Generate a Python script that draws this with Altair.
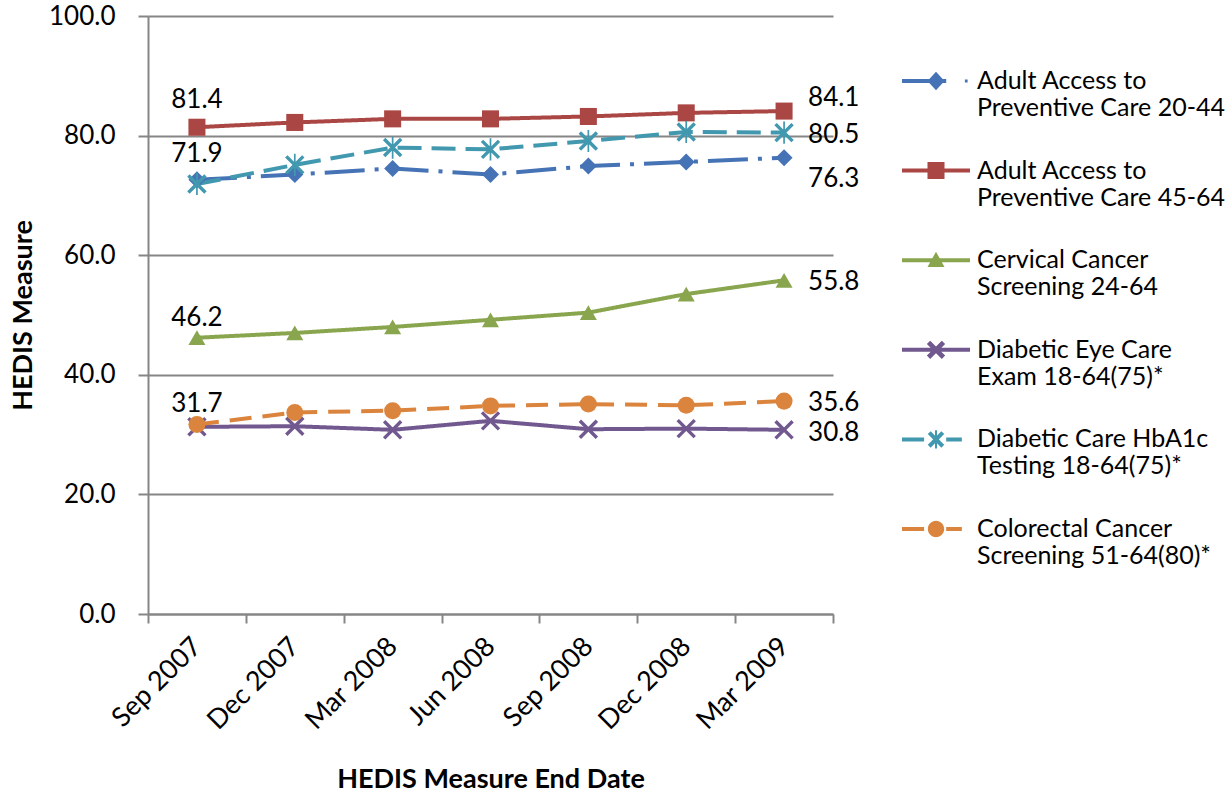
import altair as alt
import pandas as pd

# Reporting periods (HEDIS measure end dates)
end_dates = ["Sep 2007", "Dec 2007", "Mar 2008", "Jun 2008", "Sep 2008", "Dec 2008", "Mar 2009"]

# Measure names; the line break splits the legend label over two lines
measure_names = [
    "Adult Access to\nPreventive Care 20-44",
    "Adult Access to\nPreventive Care 45-64",
    "Cervical Cancer\nScreening 24-64",
    "Diabetic Eye Care\nExam 18-64(75)*",
    "Diabetic Care HbA1c\nTesting 18-64(75)*",
    "Colorectal Cancer\nScreening 51-64(80)*",
]

# Rates per period
access_20_44 = [72.6, 73.5, 74.5, 73.5, 74.9, 75.6, 76.3]
access_45_64 = [81.4, 82.2, 82.8, 82.8, 83.2, 83.8, 84.1]
cervical_24_64 = [46.2, 47.0, 48.0, 49.2, 50.4, 53.5, 55.8]
diabetic_eye = [31.3, 31.4, 30.8, 32.3, 30.9, 31.0, 30.8]
diabetic_hba1c = [71.9, 75.1, 78.0, 77.7, 79.1, 80.6, 80.5]
colorectal_51_64 = [31.7, 33.7, 34.0, 34.8, 35.1, 34.9, 35.6]

all_series = [access_20_44, access_45_64, cervical_24_64, diabetic_eye, diabetic_hba1c, colorectal_51_64]

rows = []
for name, vals in zip(measure_names, all_series):
    for d, v in zip(end_dates, vals):
        rows.append({"series": name, "date": d, "value": v})
df = pd.DataFrame(rows)

colors = ["#4573B5", "#AA4643", "#89A54E", "#71588F", "#4198AF", "#DB843D"]
dashes = [[40, 10, 4, 10], [1, 0], [1, 0], [1, 0], [24, 10], [22, 11]]

FONT = "Lato"
GRAY = "#868686"
TEXT_SIZE = 26


def rect(x1, x2, y1, y2):
    return f"M{x1:.3f},{y1:.3f}L{x2:.3f},{y1:.3f}L{x2:.3f},{y2:.3f}L{x1:.3f},{y2:.3f}Z"


def diag_cross(a, t, cy=0.0):
    # two thin bars forming an "x", written clockwise so the fill unions
    d = t / 2 ** 0.5
    p1 = f"M{-a + d:.3f},{cy - a - d:.3f}L{a + d:.3f},{cy + a - d:.3f}L{a - d:.3f},{cy + a + d:.3f}L{-a - d:.3f},{cy - a + d:.3f}Z"
    p2 = f"M{-a - d:.3f},{cy + a - d:.3f}L{a - d:.3f},{cy - a - d:.3f}L{a + d:.3f},{cy - a + d:.3f}L{-a + d:.3f},{cy + a + d:.3f}Z"
    return p1 + p2


def diamond(w, h, cy=0.0):
    return f"M0,{cy - h:.3f}L{w:.3f},{cy:.3f}L0,{cy + h:.3f}L{-w:.3f},{cy:.3f}Z"


def triangle(w, h, cy=0.0):
    return f"M0,{cy - h:.3f}L{w:.3f},{cy + h * 0.8:.3f}L{-w:.3f},{cy + h * 0.8:.3f}Z"


def circle(r, cy=0.0):
    return f"M{-r:.3f},{cy:.3f}A{r:.3f},{r:.3f} 0 1 1 {r:.3f},{cy:.3f}A{r:.3f},{r:.3f} 0 1 1 {-r:.3f},{cy:.3f}Z"


# Plot markers
x_mark = diag_cross(1.0, 0.2)
star_mark = diag_cross(1.0, 0.2) + rect(-0.1, 0.1, -1.3, 1.3)
marker_shapes = ["diamond", "square", "triangle-up", x_mark, star_mark, "circle"]

# Legend keys: a short stretch of line with the marker on it
S = 34.0          # half width of a key in pixels
t = 2.0 / S       # half line thickness
cy = 0.0
legend_keys = [
    rect(-1, 0.3, cy - t, cy + t) + diamond(0.25, 0.27, cy) + rect(0.85, 0.93, cy - 0.045, cy + 0.045),
    rect(-1, 1, cy - t, cy + t) + rect(-0.25, 0.25, cy - 0.25, cy + 0.25),
    rect(-1, 1, cy - t, cy + t) + triangle(0.25, 0.25, cy),
    rect(-1, 1, cy - t, cy + t) + diag_cross(0.22, 0.07, cy),
    rect(-1, -0.35, cy - t, cy + t) + rect(0.3, 0.76, cy - t, cy + t)
    + diag_cross(0.2, 0.06, cy) + rect(-0.03, 0.03, cy - 0.27, cy + 0.27),
    rect(-1, -0.35, cy - t, cy + t) + rect(0.3, 0.76, cy - t, cy + t) + circle(0.24, cy),
]

x_enc = alt.X(
    "date:N",
    sort=end_dates,
    scale=alt.Scale(type="band", paddingInner=0, paddingOuter=0),
    axis=alt.Axis(
        title="HEDIS Measure End Date",
        labelAngle=-45,
        labelAlign="right",
        labelBaseline="middle",
        labelPadding=19,
        labelFontSize=27,
        tickBand="extent",
        tickSize=9,
        grid=False,
        titlePadding=32,
    ),
)
y_enc = alt.Y(
    "value:Q",
    scale=alt.Scale(domain=[0, 100], nice=False),
    axis=alt.Axis(
        title="HEDIS Measure",
        values=[0, 20, 40, 60, 80, 100],
        format=".1f",
        tickSize=10,
        labelPadding=23,
        titlePadding=11,
        grid=True,
    ),
)
color_scale = alt.Scale(domain=measure_names, range=colors)

lines = alt.Chart(df).mark_line(strokeWidth=4).encode(
    x=x_enc,
    y=y_enc,
    color=alt.Color("series:N", scale=color_scale, legend=None),
    strokeDash=alt.StrokeDash("series:N", scale=alt.Scale(domain=measure_names, range=dashes), legend=None),
)

points = alt.Chart(df).mark_point(filled=True, size=290, opacity=1).encode(
    x=x_enc,
    y=y_enc,
    color=alt.Color("series:N", scale=color_scale, legend=None),
    shape=alt.Shape("series:N", scale=alt.Scale(domain=measure_names, range=marker_shapes), legend=None),
)

legend_props = dict(
    title=None,
    orient="none",
    legendX=754,
    legendY=31,
    symbolSize=(2 * S) ** 2,
    symbolStrokeWidth=0,
    symbolOpacity=1,
    labelFont=FONT,
    labelFontSize=25,
    labelColor="#000000",
    labelLimit=400,
    labelOffset=7,
    labelExpr="split(datum.label, '\\n')",
    rowPadding=15.6,
    padding=0,
)

key_layer = alt.Chart(df).transform_filter("false").mark_point(filled=True, opacity=1).encode(
    x=x_enc,
    y=y_enc,
    color=alt.Color("series:N", scale=color_scale, legend=alt.Legend(**legend_props)),
    shape=alt.Shape("series:N", scale=alt.Scale(domain=measure_names, range=legend_keys),
                    legend=alt.Legend(**legend_props)),
)

# Value labels at the first and last period: (series index, vertical nudge)
start_labels = [(1, -27), (4, -30), (2, -20), (5, -20)]
end_labels = [(1, -13), (4, 2), (0, 21), (2, 2), (5, 2), (3, 3)]

label_layers = []
for idx, nudge in start_labels:
    label_layers.append(
        alt.Chart(df)
        .transform_filter(alt.FieldEqualPredicate(field="series", equal=measure_names[idx]))
        .transform_filter(alt.FieldEqualPredicate(field="date", equal=end_dates[0]))
        .mark_text(dy=nudge, align="center", baseline="middle", font=FONT, fontSize=TEXT_SIZE, color="#000000")
        .encode(x=x_enc, y=y_enc, text=alt.Text("value:Q", format=".1f"))
    )
for idx, nudge in end_labels:
    label_layers.append(
        alt.Chart(df)
        .transform_filter(alt.FieldEqualPredicate(field="series", equal=measure_names[idx]))
        .transform_filter(alt.FieldEqualPredicate(field="date", equal=end_dates[-1]))
        .mark_text(dx=24, dy=nudge, align="left", baseline="middle", font=FONT, fontSize=TEXT_SIZE, color="#000000")
        .encode(x=x_enc, y=y_enc, text=alt.Text("value:Q", format=".1f"))
    )

chart = (
    alt.layer(lines, points, *label_layers, key_layer)
    .resolve_scale(shape="independent", color="independent")
    .properties(
        width=685,
        height=598,
        autosize=alt.AutoSizeParams(type="none"),
        padding={"left": 148, "top": 16, "right": 397, "bottom": 182},
        background="#ffffff",
    )
    .configure_view(stroke=None)
    .configure_axis(
        labelFont=FONT,
        labelFontSize=TEXT_SIZE,
        labelColor="#000000",
        titleFont=FONT,
        titleFontSize=27,
        titleFontWeight="bold",
        titleColor="#000000",
        domainColor=GRAY,
        domainWidth=2,
        tickColor=GRAY,
        tickWidth=2,
        gridColor=GRAY,
        gridWidth=2,
    )
)

chart.save("out.html", embed_options={"renderer": "svg", "actions": False})
